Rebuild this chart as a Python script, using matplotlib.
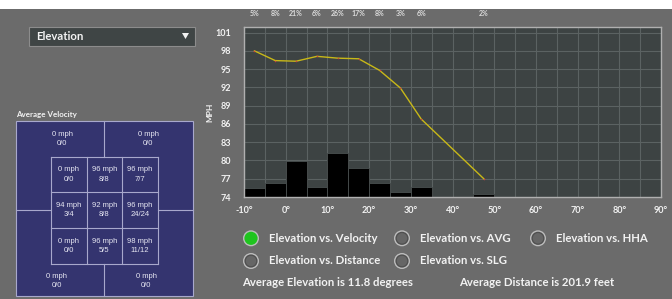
import matplotlib
matplotlib.use('Agg')
import matplotlib.pyplot as plt
from matplotlib.patches import Rectangle, Circle, Polygon
from matplotlib.transforms import blended_transform_factory
import numpy as np

# ---------------- data ----------------
bin_left = [-10, -5, 0, 5, 10, 15, 20, 25, 30, 45]
bin_pct = [5, 8, 21, 6, 26, 17, 8, 3, 6, 2]
vel_angle = [-7.5, -2.5, 2.5, 7.5, 12.5, 17.5, 22.5, 27.5, 32.5, 47.5]
vel_mph = [98.0, 96.4, 96.3, 97.1, 96.8, 96.7, 94.8, 91.9, 86.8, 77.0]
y_ticks = [74, 77, 80, 83, 86, 89, 92, 95, 98, 101]
x_ticks = [-10, 0, 10, 20, 30, 40, 50, 60, 70, 80, 90]
outer_mph = [0, 0, 0, 0]          # top-left, top-right, bottom-left, bottom-right
outer_counts = ['0/0', '0/0', '0/0', '0/0']
zone_mph = [[0, 96, 96], [94, 92, 96], [0, 96, 98]]
zone_counts = [['0/0', '8/8', '7/7'], ['3/4', '8/8', '24/24'], ['0/0', '5/5', '11/12']]
options = ['Elevation vs. Velocity', 'Elevation vs. AVG', 'Elevation vs. HHA',
           'Elevation vs. Distance', 'Elevation vs. SLG']
selected = 0
avg_elevation = 11.8
avg_distance = 201.9

# ---------------- style ----------------
BG = '#6b6b6b'
PLOT_BG = '#3d4343'
GRID = '#5b6262'
SPINE = '#b0b0b0'
WHITE = '#f2f2f2'
ZONE = '#34346f'
ZONE_LINE = '#a8a8cc'
UI = 'Lato'
W, H = 672, 299

fig = plt.figure(figsize=(W / 100, H / 100), dpi=100, facecolor=BG)

# background overlay in pixel coordinates
bg = fig.add_axes([0, 0, 1, 1], zorder=0)
bg.set_xlim(0, W)
bg.set_ylim(H, 0)
bg.axis('off')
bg.add_patch(Rectangle((0, 0), W, 9, color='white', lw=0))

# dropdown
bg.add_patch(Rectangle((29, 27), 166, 19, facecolor='#3f4545', edgecolor='#8c8c8c', lw=0.8))
bg.text(36, 36.5, 'Elevation', color=WHITE, fontsize=8.2, fontweight='bold',
        family=UI, va='center', ha='left')
bg.add_patch(Polygon([[182, 33], [189, 33], [185.5, 39]], closed=True, color=WHITE, lw=0))

# strike zone
bg.text(16, 114, 'Average Velocity', color=WHITE, fontsize=5.8, fontweight='bold',
        family=UI, va='center', ha='left')
ox0, ox1, oy0, oy1 = 16, 193, 121, 296
ix0, ix1, iy0, iy1 = 51, 157.7, 156.7, 264
bg.add_patch(Rectangle((ox0, oy0), ox1 - ox0, oy1 - oy0, facecolor=ZONE,
                       edgecolor=ZONE_LINE, lw=0.8))
cw = (ix1 - ix0) / 3
ch = (iy1 - iy0) / 3
midx = (ix0 + ix1) / 2
midy = (iy0 + iy1) / 2
lk = dict(color=ZONE_LINE, lw=0.8)
bg.plot([midx, midx], [oy0, iy0], **lk)
bg.plot([midx, midx], [iy1, oy1], **lk)
bg.plot([ox0, ix0], [midy, midy], **lk)
bg.plot([ix1, ox1], [midy, midy], **lk)
for i in range(4):
    bg.plot([ix0 + i * cw, ix0 + i * cw], [iy0, iy1], **lk)
    bg.plot([ix0, ix1], [iy0 + i * ch, iy0 + i * ch], **lk)
zt = dict(color='#e6e6f2', fontsize=5.5, family='Liberation Sans', ha='center', va='center')
for r in range(3):
    for c in range(3):
        cx = ix0 + (c + 0.5) * cw
        cy = iy0 + (r + 0.5) * ch
        bg.text(cx, cy - 4.6, f'{zone_mph[r][c]} mph', **zt)
        bg.text(cx, cy + 4.6, zone_counts[r][c], **zt)
outer_pos = [(62, 138.8), (148, 138.8), (57, 281.2), (146, 281.2)]
for (px, py), m, cnt in zip(outer_pos, outer_mph, outer_counts):
    bg.text(px, py - 4.5, f'{m} mph', **zt)
    bg.text(px, py + 4.5, cnt, **zt)

# radio options
opt_pos = [(251, 238.3), (402, 238.3), (538, 238.3), (251, 261), (402, 261)]
for i, ((px, py), lab) in enumerate(zip(opt_pos, options)):
    bg.add_patch(Circle((px, py), 8, facecolor='#bdbdbd', edgecolor='none'))
    if i == selected:
        bg.add_patch(Circle((px, py), 6.6, facecolor='#1fc41f', edgecolor='none'))
    else:
        bg.add_patch(Circle((px, py), 6.6, facecolor='#505050', edgecolor='none'))
        bg.add_patch(Circle((px, py), 5.2, facecolor='#666666', edgecolor='none'))
    bg.text(px + 18, py, lab, color=WHITE, fontsize=8.2, fontweight='bold',
            family=UI, va='center', ha='left')
bg.text(242, 282.7, f'Average Elevation is {avg_elevation} degrees', color=WHITE,
        fontsize=8.2, fontweight='bold', family=UI, va='center', ha='left')
bg.text(459, 282.7, f'Average Distance is {avg_distance} feet', color=WHITE,
        fontsize=8.2, fontweight='bold', family=UI, va='center', ha='left')

# ---------------- chart ----------------
L, R, T, B = 244, 661, 26.5, 197
ax = fig.add_axes([L / W, 1 - B / H, (R - L) / W, (B - T) / H], zorder=1)
ax.set_facecolor(PLOT_BG)
ymin, ymax = 74, 102
ax.set_xlim(-10, 90)
ax.set_ylim(ymin, ymax)
ax.set_axisbelow(True)

# histogram bars scaled to 0-100 % of axis height
scale = (ymax - ymin) / 100.0
ax.bar(bin_left, np.array(bin_pct) * scale, bottom=ymin, width=5, align='edge',
       color='black', edgecolor='#4a5050', lw=0.6, zorder=2)
ax.plot(vel_angle, vel_mph, color='#c8b818', lw=1.0, zorder=3)
ax.plot(vel_angle, vel_mph, ls='none', marker='o', ms=1.1, mew=0, color='#d04040', zorder=4)

ax.set_xticks(x_ticks)
ax.set_xticklabels([f'{t}°' for t in x_ticks])
ax.set_xticks(np.arange(-5, 90, 10), minor=True)
ax.set_yticks(y_ticks)
ax.grid(True, which='both', color=GRID, lw=0.8)
ax.tick_params(axis='both', which='both', length=0, colors=WHITE, labelsize=6.5)
ax.tick_params(axis='y', pad=9)
ax.tick_params(axis='x', pad=6.5)
for lab in ax.get_xticklabels() + ax.get_yticklabels():
    lab.set_fontweight('bold')
    lab.set_family(UI)
for s in ax.spines.values():
    s.set_color(SPINE)
    s.set_linewidth(1.0)

fig.text(210 / W, 1 - 112 / H, 'MPH', rotation=90, color=WHITE, fontsize=6.0,
         fontweight='bold', family=UI, ha='center', va='center')

tr = blended_transform_factory(ax.transData, fig.transFigure)
for bl, p in zip(bin_left, bin_pct):
    ax.text(bl + 2.5, 1 - 14 / H, f'{p}%', transform=tr, color='#dcdcdc',
            fontsize=5.0, fontweight='bold', family=UI, ha='center', va='center',
            clip_on=False)

fig.savefig('out.png', dpi=100, facecolor=BG)
